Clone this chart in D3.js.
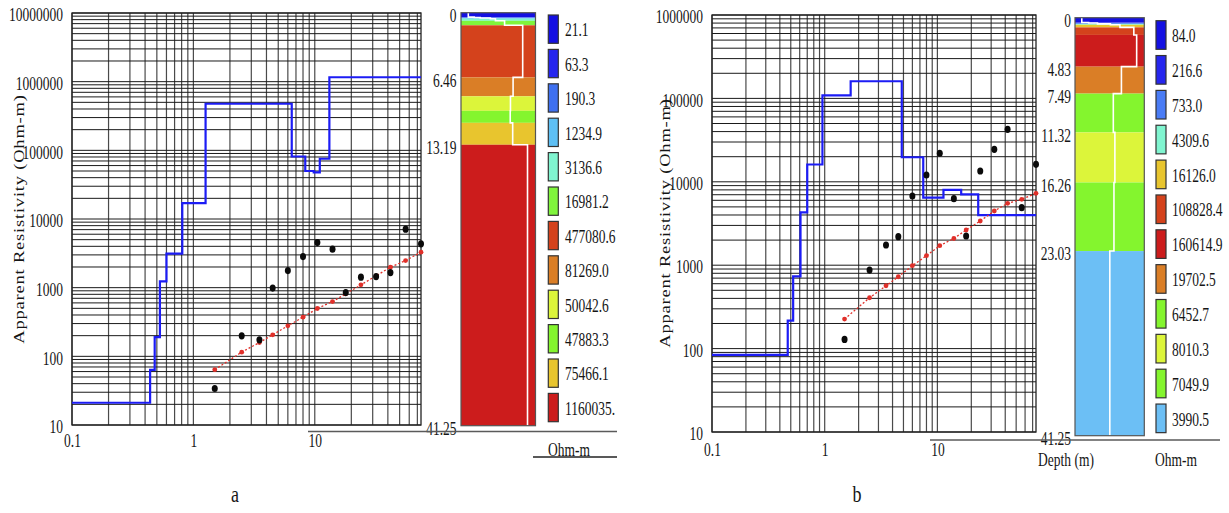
<!DOCTYPE html>
<html>
<head>
<meta charset="utf-8">
<script src="https://cdn.jsdelivr.net/npm/d3@7"></script>
<style>
  body { margin: 0; background: #fff; }
  svg { display: block; }
  text { font-family: "Liberation Serif", "Times New Roman", serif; fill: #151515; }
</style>
</head>
<body>
<svg id="chart" width="1229" height="513"></svg>
<script>
// ---------- data ----------
const totalDepth = 41.25;
const abHalf = [1.5, 2.5, 3.5, 4.5, 6, 8, 10.5, 14, 18, 24, 32, 42, 56, 75];

// Sounding a
const observedA = [34, 199, 174, 985, 1774, 2838, 4530, 3630, 849, 1422, 1452, 1660, 7110, 4350];
const calculatedA = [64, 115, 159, 206, 278, 372, 497, 628, 813, 1099, 1486, 1987, 2483, 3289];
const layerResA = [21.1, 63.3, 190.3, 1234.9, 3136.6, 16981.2, 477080.6, 81269.0, 50042.6, 47883.3, 75466.1, 1160035];
const layerLabelsA = ["21.1", "63.3", "190.3", "1234.9", "3136.6", "16981.2", "477080.6", "81269.0", "50042.6", "47883.3", "75466.1", "1160035."];
const layerBottomsA = [0.44, 0.48, 0.53, 0.60, 0.81, 1.26, 6.46, 8.35, 9.8, 11.0, 13.19];
const layerColorsA = ["#1410e2", "#2626ee", "#3f70f0", "#5ec0f5", "#80f5d0", "#80f53c", "#d4421c", "#da7e26", "#dcf53a", "#84f52e", "#e8c52e", "#cc1c1c"];
const depthTicksA = [0, 6.46, 13.19, 41.25];
const depthTickLabelsA = ["0", "6.46", "13.19", "41.25"];
const yTicksA = [10, 100, 1000, 10000, 100000, 1000000, 10000000];

// Sounding b
const observedB = [129, 875, 1746, 2198, 6761, 12070, 21980, 6270, 2239, 13470, 24500, 42600, 4890, 16220];
const calculatedB = [226, 407, 567, 727, 986, 1300, 1714, 2090, 2642, 3390, 4467, 5520, 6170, 7280];
const layerResB = [84.0, 216.6, 733.0, 4309.6, 16126.0, 108828.4, 160614.9, 19702.5, 6452.7, 8010.3, 7049.9, 3990.5];
const layerLabelsB = ["84.0", "216.6", "733.0", "4309.6", "16126.0", "108828.4", "160614.9", "19702.5", "6452.7", "8010.3", "7049.9", "3990.5"];
const layerBottomsB = [0.47, 0.525, 0.61, 0.70, 0.955, 1.70, 4.83, 7.49, 11.32, 16.26, 23.03];
const layerColorsB = ["#1410e2", "#2626ee", "#4a7cf5", "#80f5d0", "#e8c52e", "#d4421c", "#cc1c1c", "#da7e26", "#84f52e", "#dcf53a", "#84f52e", "#6cbff5"];
const depthTicksB = [0, 4.83, 7.49, 11.32, 16.26, 23.03, 41.25];
const depthTickLabelsB = ["0", "4.83", "7.49", "11.32", "16.26", "23.03", "41.25"];
const yTicksB = [10, 100, 1000, 10000, 100000, 1000000];

const xTicks = [0.1, 1, 10];
const xTickLabels = ["0.1", "1", "10"];

// ---------- layout ----------
const SX = 0.75;          // horizontal condensing of the serif lettering
const FS = 18;

const panels = [
  {
    observed: observedA, calculated: calculatedA,
    res: layerResA, labels: layerLabelsA, bottoms: layerBottomsA, colors: layerColorsA,
    depthTicks: depthTicksA, depthLabels: depthTickLabelsA, yTicks: yTicksA,
    plot: { x0: 72, x1: 421, y0: 13, y1: 425 }, yDomain: [10, 1e7], xMax: 75,
    col: { x0: 461, x1: 535.5, y0: 12.7, y1: 425.7 }, white: [5.5, 5.06e6],
    legend: { x: 548.3, y0: 15, step: 34.4, w: 10, h: 28.3, tx: 565 },
    depthLabelX: 456.5, titleX: 19, titleY: 219, xLabelY: 441,
    base: { x0: 308, x1: 617, y: 431.5 },
    units: [{ t: "Ohm-m", x: 569, y: 450 }],
    underline: { x0: 533, x1: 617, y: 457 },
    letter: { t: "a", x: 235, y: 494 }
  },
  {
    observed: observedB, calculated: calculatedB,
    res: layerResB, labels: layerLabelsB, bottoms: layerBottomsB, colors: layerColorsB,
    depthTicks: depthTicksB, depthLabels: depthTickLabelsB, yTicks: yTicksB,
    plot: { x0: 712, x1: 1036, y0: 15, y1: 432 }, yDomain: [10, 1e6], xMax: 75,
    col: { x0: 1075, x1: 1144.3, y0: 17.7, y1: 435.7 }, white: [33, 4.6e5],
    legend: { x: 1156, y0: 20.7, step: 34.85, w: 10, h: 28.6, tx: 1172 },
    depthLabelX: 1071, titleX: 665, titleY: 223, xLabelY: 450,
    base: { x0: 930, x1: 1220, y: 440 },
    units: [{ t: "Depth (m)", x: 1066, y: 460 }, { t: "Ohm-m", x: 1176, y: 460 }],
    underline: null,
    letter: { t: "b", x: 857, y: 494 }
  }
];

const svg = d3.select("#chart");

function label(g, x, y, s, anchor, size) {
  return g.append("text")
    .attr("transform", `translate(${x},${y}) scale(${SX},1)`)
    .attr("text-anchor", anchor || "start")
    .attr("dominant-baseline", "central")
    .style("font-size", (size || FS) + "px")
    .text(s);
}

function minorValues(lo, hi) {
  const vals = [];
  for (let d = lo; d < hi * 1.0001; d *= 10) {
    for (let k = 1; k <= 9; k++) {
      const v = k * d;
      if (v >= lo * 0.9999 && v <= hi * 1.0001) vals.push(v);
    }
  }
  return vals;
}

panels.forEach(p => {
  const g = svg.append("g");
  const x = d3.scaleLog().domain([0.1, p.xMax]).range([p.plot.x0, p.plot.x1]);
  const y = d3.scaleLog().domain(p.yDomain).range([p.plot.y1, p.plot.y0]);
  const depth = d3.scaleLinear().domain([0, totalDepth]).range([p.col.y0, p.col.y1]);
  const wx = d3.scaleLog().domain(p.white).range([p.col.x0, p.col.x1]);

  // log-log grid
  const grid = g.append("g");
  grid.selectAll("line.v").data(minorValues(0.1, 100).filter(v => v < p.xMax))
    .join("line").attr("class", "v")
    .attr("x1", d => x(d)).attr("x2", d => x(d))
    .attr("y1", p.plot.y0).attr("y2", p.plot.y1)
    .attr("stroke", "#4a4a4a").attr("stroke-width", 1.2);
  grid.selectAll("line.h").data(minorValues(p.yDomain[0], p.yDomain[1]))
    .join("line").attr("class", "h")
    .attr("x1", p.plot.x0).attr("x2", p.plot.x1)
    .attr("y1", d => y(d)).attr("y2", d => y(d))
    .attr("stroke", "#1a1a1a").attr("stroke-width", 1);
  g.append("rect")
    .attr("x", p.plot.x0).attr("y", p.plot.y0)
    .attr("width", p.plot.x1 - p.plot.x0).attr("height", p.plot.y1 - p.plot.y0)
    .attr("fill", "none").attr("stroke", "#222").attr("stroke-width", 1.3);

  // axes (labels only)
  const yAxis = d3.axisLeft(y).tickValues(p.yTicks).tickSize(0).tickPadding(9 / SX)
    .tickFormat(d3.format("d"));
  const ya = g.append("g").attr("transform", `translate(${p.plot.x0},2)`).call(yAxis);
  ya.select(".domain").remove();
  ya.selectAll("text").attr("transform", `scale(${SX},1)`)
    .style("font-size", FS + "px").attr("fill", "#151515")
    .style("font-family", '"Liberation Serif", serif');

  const xAxis = d3.axisBottom(x).tickValues(xTicks).tickSize(0)
    .tickFormat((d, i) => xTickLabels[i]);
  const xa = g.append("g").attr("transform", `translate(0,${p.xLabelY})`).call(xAxis);
  xa.select(".domain").remove();
  xa.selectAll("text").attr("y", 0).attr("dy", "0.35em")
    .attr("transform", `scale(${SX},1)`)
    .style("font-size", FS + "px").attr("fill", "#151515")
    .style("font-family", '"Liberation Serif", serif');

  // axis title
  g.append("text")
    .attr("transform", `translate(${p.titleX},${p.titleY}) rotate(-90) scale(1,${SX})`)
    .attr("text-anchor", "middle").attr("dominant-baseline", "central")
    .style("font-size", "18.5px").style("letter-spacing", "0.8px")
    .text("Apparent Resistivity (Ohm-m)");

  // layered model as a step curve
  const stepPts = [];
  p.res.forEach((r, i) => {
    const start = i === 0 ? 0.1 : p.bottoms[i - 1];
    const end = i < p.bottoms.length ? p.bottoms[i] : p.xMax;
    stepPts.push([start, r], [end, r]);
  });
  g.append("path").datum(stepPts)
    .attr("d", d3.line().x(d => x(d[0])).y(d => y(d[1])))
    .attr("fill", "none").attr("stroke", "#1c1cf5").attr("stroke-width", 2.2);

  // calculated curve
  const calcPts = abHalf.map((a, i) => [a, p.calculated[i]]);
  g.append("path").datum(calcPts)
    .attr("d", d3.line().x(d => x(d[0])).y(d => y(d[1])))
    .attr("fill", "none").attr("stroke", "#e0302a").attr("stroke-width", 1.3)
    .attr("stroke-dasharray", "2,2");
  g.selectAll("circle.calc").data(calcPts).join("circle").attr("class", "calc")
    .attr("cx", d => x(d[0])).attr("cy", d => y(d[1])).attr("r", 2.4)
    .attr("fill", "#e0302a");

  // observed apparent resistivity
  g.selectAll("ellipse.obs").data(abHalf.map((a, i) => [a, p.observed[i]]))
    .join("ellipse").attr("class", "obs")
    .attr("cx", d => x(d[0])).attr("cy", d => y(d[1]))
    .attr("rx", 3).attr("ry", 3.6).attr("fill", "#0a0a0a");

  // depth column
  const tops = [0].concat(p.bottoms);
  const bots = p.bottoms.concat([totalDepth]);
  g.selectAll("rect.layer").data(p.res).join("rect").attr("class", "layer")
    .attr("x", p.col.x0).attr("width", p.col.x1 - p.col.x0)
    .attr("y", (d, i) => depth(tops[i]))
    .attr("height", (d, i) => depth(bots[i]) - depth(tops[i]))
    .attr("fill", (d, i) => p.colors[i]);
  const whitePts = [];
  p.res.forEach((r, i) => { whitePts.push([r, tops[i]], [r, bots[i]]); });
  g.append("path").datum(whitePts)
    .attr("d", d3.line().x(d => wx(d[0])).y(d => depth(d[1])))
    .attr("fill", "none").attr("stroke", "#fff").attr("stroke-width", 1.6);
  g.append("rect")
    .attr("x", p.col.x0).attr("y", p.col.y0)
    .attr("width", p.col.x1 - p.col.x0).attr("height", p.col.y1 - p.col.y0)
    .attr("fill", "none").attr("stroke", "#555").attr("stroke-width", 1.2);

  // depth labels
  p.depthTicks.forEach((d, i) => {
    label(g, p.depthLabelX, depth(d) + 3, p.depthLabels[i], "end");
  });

  // legend
  p.res.forEach((r, i) => {
    const yy = p.legend.y0 + i * p.legend.step;
    g.append("rect").attr("x", p.legend.x).attr("y", yy)
      .attr("width", p.legend.w).attr("height", p.legend.h)
      .attr("fill", p.colors[i]).attr("stroke", "#333").attr("stroke-width", 1.2);
    label(g, p.legend.tx, yy + p.legend.h / 2 + 1, p.labels[i], "start");
  });

  // base line, units, panel letter
  g.append("line").attr("x1", p.base.x0).attr("x2", p.base.x1)
    .attr("y1", p.base.y).attr("y2", p.base.y)
    .attr("stroke", "#5a5a5a").attr("stroke-width", 1.5);
  if (p.underline) {
    g.append("line").attr("x1", p.underline.x0).attr("x2", p.underline.x1)
      .attr("y1", p.underline.y).attr("y2", p.underline.y)
      .attr("stroke", "#222").attr("stroke-width", 1.3);
  }
  p.units.forEach(u => label(g, u.x, u.y, u.t, "middle"));
  label(g, p.letter.x, p.letter.y, p.letter.t, "middle", 24);
});
</script>
</body>
</html>
